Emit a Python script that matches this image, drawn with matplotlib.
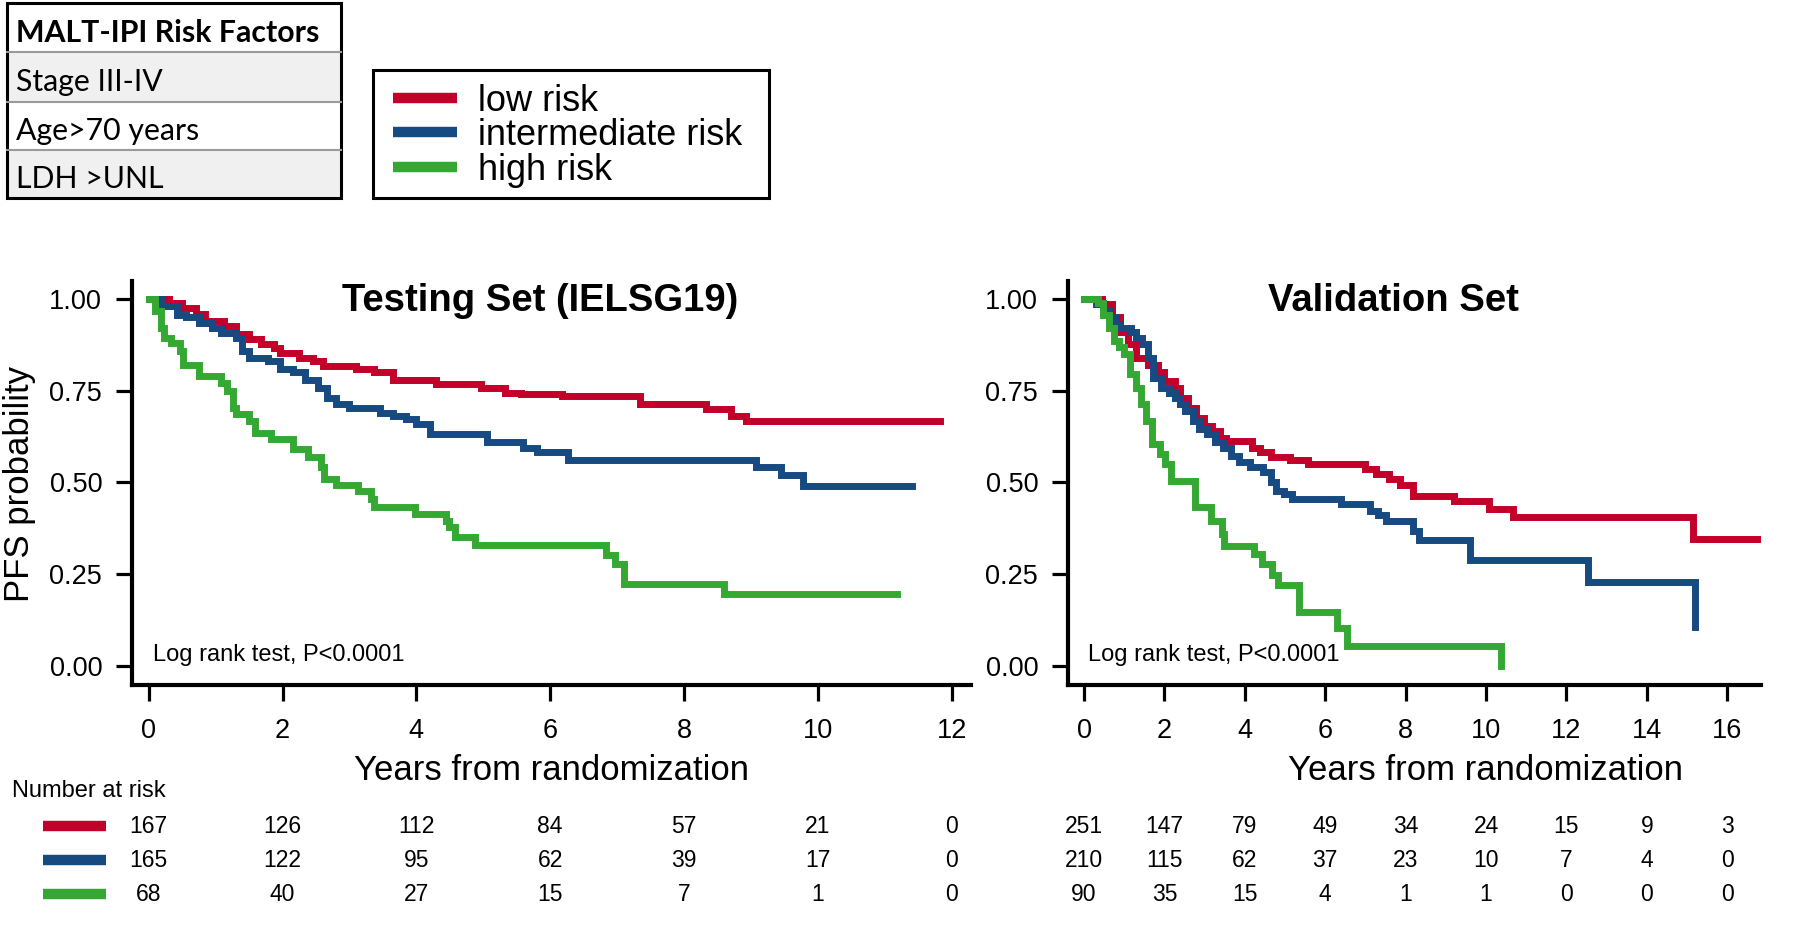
import matplotlib
matplotlib.use("Agg")
import matplotlib.pyplot as plt
import matplotlib.transforms as mtransforms
from matplotlib.patches import Rectangle
from matplotlib.lines import Line2D

# ----------------------------------------------------------------------
# data
# ----------------------------------------------------------------------
groups = ["low risk", "intermediate risk", "high risk"]
colors = ["#c3002a", "#164a80", "#35a834"]

risk_factors = ["Stage III-IV", "Age>70 years", "LDH >UNL"]

# Testing set (IELSG19)
test_low_t = [0, 0.3, 0.5, 0.7, 0.84, 1.12, 1.31, 1.5, 1.68, 1.87, 1.96, 2.25, 2.45,
              2.6, 3.1, 3.37, 3.65, 4.3, 4.96, 5.33, 5.56, 6.17, 7.34, 8.33, 8.7,
              8.93, 11.83]
test_low_s = [1.0, 0.99, 0.975, 0.96, 0.94, 0.926, 0.905, 0.89, 0.876, 0.867, 0.853,
              0.84, 0.83, 0.817, 0.81, 0.80, 0.78, 0.767, 0.758, 0.745, 0.74, 0.736,
              0.713, 0.70, 0.682, 0.668, 0.668]
test_int_t = [0, 0.2, 0.42, 0.56, 0.75, 0.94, 1.08, 1.31, 1.4, 1.5, 1.78, 1.96, 2.15,
              2.34, 2.53, 2.67, 2.8, 3.0, 3.46, 3.65, 3.84, 4.0, 4.2, 5.05, 5.6, 5.8,
              6.27, 9.07, 9.45, 9.78, 11.41]
test_int_s = [1.0, 0.98, 0.957, 0.95, 0.935, 0.92, 0.908, 0.894, 0.858, 0.84, 0.83,
              0.81, 0.80, 0.78, 0.758, 0.73, 0.713, 0.704, 0.69, 0.68, 0.672, 0.66,
              0.632, 0.61, 0.595, 0.583, 0.56, 0.541, 0.519, 0.489, 0.489]
test_high_t = [0, 0.09, 0.19, 0.23, 0.33, 0.47, 0.51, 0.75, 1.08, 1.17, 1.26, 1.31,
               1.5, 1.59, 1.83, 2.15, 2.38, 2.57, 2.62, 2.8, 3.13, 3.32, 3.37, 3.98,
               4.44, 4.49, 4.58, 4.87, 6.83, 6.97, 7.1, 8.6, 11.18]
test_high_s = [1.0, 0.967, 0.92, 0.894, 0.88, 0.858, 0.82, 0.79, 0.772, 0.75, 0.704,
               0.686, 0.668, 0.636, 0.618, 0.591, 0.568, 0.541, 0.509, 0.494, 0.478,
               0.455, 0.432, 0.414, 0.396, 0.378, 0.351, 0.329, 0.301, 0.279, 0.224,
               0.195, 0.195]

# Validation set
val_low_t = [0, 0.44, 0.7, 0.9, 1.1, 1.3, 1.58, 1.85, 1.98, 2.25, 2.38, 2.58, 2.78,
             2.98, 3.18, 3.38, 3.52, 4.18, 4.38, 4.65, 5.12, 5.58, 6.99, 7.25, 7.59,
             7.86, 8.19, 9.2, 10.07, 10.67, 15.16, 16.83]
val_low_s = [1.0, 0.985, 0.95, 0.91, 0.876, 0.84, 0.82, 0.80, 0.776, 0.758, 0.731,
             0.704, 0.677, 0.654, 0.64, 0.622, 0.614, 0.595, 0.583, 0.568, 0.56, 0.549,
             0.537, 0.523, 0.51, 0.494, 0.464, 0.45, 0.428, 0.407, 0.347, 0.347]
val_int_t = [0, 0.3, 0.5, 0.64, 0.77, 0.9, 1.17, 1.3, 1.44, 1.58, 1.71, 1.91, 2.11,
             2.25, 2.38, 2.51, 2.71, 2.85, 3.05, 3.25, 3.45, 3.65, 3.85, 4.12, 4.45,
             4.65, 4.78, 4.98, 5.18, 6.38, 7.12, 7.32, 7.52, 8.19, 8.33, 9.6, 12.54,
             15.21]
val_int_s = [1.0, 0.985, 0.967, 0.95, 0.93, 0.92, 0.91, 0.894, 0.876, 0.84, 0.786,
             0.758, 0.745, 0.731, 0.713, 0.695, 0.668, 0.645, 0.632, 0.61, 0.595, 0.573,
             0.555, 0.541, 0.528, 0.5, 0.478, 0.469, 0.455, 0.441, 0.423, 0.41, 0.396,
             0.369, 0.342, 0.288, 0.229, 0.107]
val_high_t = [0, 0.35, 0.48, 0.61, 0.74, 0.88, 1.0, 1.14, 1.28, 1.41, 1.55, 1.68, 1.88,
              2.02, 2.15, 2.75, 3.15, 3.42, 3.48, 4.22, 4.42, 4.68, 4.82, 5.35, 6.29,
              6.55, 10.36]
val_high_s = [1.0, 0.99, 0.957, 0.92, 0.885, 0.868, 0.849, 0.795, 0.758, 0.713, 0.668,
              0.605, 0.577, 0.55, 0.505, 0.432, 0.396, 0.36, 0.328, 0.306, 0.279, 0.247,
              0.22, 0.148, 0.102, 0.053, 0.0]

# number at risk
test_years = [0, 2, 4, 6, 8, 10, 12]
test_at_risk = [[167, 126, 112, 84, 57, 21, 0],
                [165, 122, 95, 62, 39, 17, 0],
                [68, 40, 27, 15, 7, 1, 0]]
val_years = [0, 2, 4, 6, 8, 10, 12, 14, 16]
val_at_risk = [[251, 147, 79, 49, 34, 24, 15, 9, 3],
               [210, 115, 62, 37, 23, 10, 7, 4, 0],
               [90, 35, 15, 4, 1, 1, 0, 0, 0]]

y_ticks = [0.0, 0.25, 0.5, 0.75, 1.0]

# ----------------------------------------------------------------------
W, H = 1801, 946
def fx(px):
    return px / W
def fy(py):
    return 1 - py / H

plt.rcParams["font.family"] = ["Liberation Sans", "DejaVu Sans"]

fig = plt.figure(figsize=(W / 100, H / 100), dpi=100)

panels = [
    dict(rect=[fx(132), fy(685), fx(971) - fx(132), fy(281) - fy(685)],
         xlim=(-0.25, 12.29), title="Testing Set (IELSG19)", title_x=0.486,
         xlabel_x=0.5, logrank_x=0.06,
         curves=[(test_low_t, test_low_s), (test_int_t, test_int_s),
                 (test_high_t, test_high_s)],
         years=test_years, at_risk=test_at_risk),
    dict(rect=[fx(1068), fy(685), fx(1761) - fx(1068), fy(281) - fy(685)],
         xlim=(-0.4, 16.84), title="Validation Set", title_x=0.47,
         xlabel_x=0.603, logrank_x=0.1,
         curves=[(val_low_t, val_low_s), (val_int_t, val_int_s),
                 (val_high_t, val_high_s)],
         years=val_years, at_risk=val_at_risk),
]

risk_rows = [826, 860, 894]

for p in panels:
    ax = fig.add_axes(p["rect"])
    for (t, s), c in zip(p["curves"], colors):
        ax.step(t, s, where="post", color=c, lw=5.0, solid_joinstyle="miter")
    ax.set_xlim(*p["xlim"])
    ax.set_ylim(-0.052, 1.049)
    ax.set_xticks(p["years"])
    ax.set_yticks(y_ticks)
    ax.set_yticklabels([f"{v:.2f}" for v in y_ticks])
    for side in ["top", "right"]:
        ax.spines[side].set_visible(False)
    for side in ["left", "bottom"]:
        ax.spines[side].set_linewidth(3.0)
    ax.tick_params(axis="both", direction="out", length=11.5, width=2.3,
                   labelsize=19.5)
    ax.tick_params(axis="x", pad=12.5)
    ax.tick_params(axis="y", pad=10)
    ax.set_xlabel("Years from randomization", fontsize=25)
    ax.xaxis.set_label_coords(p["xlabel_x"], -0.172)
    ax.text(p["title_x"], 0.95, p["title"], transform=ax.transAxes,
            ha="center", va="center", fontsize=27.5, fontweight="bold")
    ax.text(p["logrank_x"], 0.03, "Log rank test, P<0.0001", fontsize=17,
            ha="left", va="center")

    # number at risk rows under the panel
    trans = mtransforms.blended_transform_factory(ax.transData, fig.transFigure)
    for row, ypix in zip(p["at_risk"], risk_rows):
        for yr, n in zip(p["years"], row):
            fig.text(yr, fy(ypix), str(n), transform=trans, ha="center",
                     va="center", fontsize=16.5)

fig.text(fx(36), fy(484), "PFS probability", rotation=90, ha="right",
         va="center", fontsize=25)

# number at risk header and colour keys
fig.text(fx(12), fy(791), "Number at risk", ha="left", va="center", fontsize=17)
for c, ypix in zip(colors, risk_rows):
    fig.add_artist(Line2D([fx(43), fx(106)], [fy(ypix), fy(ypix)], color=c,
                          lw=7.5, solid_capstyle="butt", transform=fig.transFigure))

# legend box
fig.add_artist(Rectangle((fx(373), fy(198)), fx(769) - fx(373), fy(70) - fy(198),
                         fill=False, ec="black", lw=2.2, transform=fig.transFigure))
for g, c, ypix in zip(groups, colors, [98, 132, 167]):
    fig.add_artist(Line2D([fx(393), fx(457)], [fy(ypix), fy(ypix)], color=c,
                          lw=7.5, solid_capstyle="butt", transform=fig.transFigure))
    fig.text(fx(478), fy(ypix + 13), g, ha="left", va="baseline", fontsize=26)

# risk factor table
row_edges = [3, 52, 102, 150, 198]
row_fill = ["white", "#f0f0f0", "white", "#f0f0f0"]
row_text = ["MALT-IPI Risk Factors"] + risk_factors
for i in range(4):
    top, bot = row_edges[i], row_edges[i + 1]
    fig.add_artist(Rectangle((fx(7), fy(bot)), fx(341) - fx(7), fy(top) - fy(bot),
                             fc=row_fill[i], ec="none", transform=fig.transFigure))
    if i > 0:
        fig.add_artist(Line2D([fx(7), fx(341)], [fy(top), fy(top)], color="#9a9a9a",
                              lw=1.5, transform=fig.transFigure))
    fig.text(fx(16), fy((top + bot) / 2 + 5), row_text[i], ha="left", va="center",
             fontsize=21.8, family=["Lato", "DejaVu Sans"],
             fontweight="bold" if i == 0 else "normal")
fig.add_artist(Rectangle((fx(7), fy(198)), fx(341) - fx(7), fy(3) - fy(198),
                         fill=False, ec="black", lw=2.2, transform=fig.transFigure))

fig.savefig("out.png", dpi=100)
